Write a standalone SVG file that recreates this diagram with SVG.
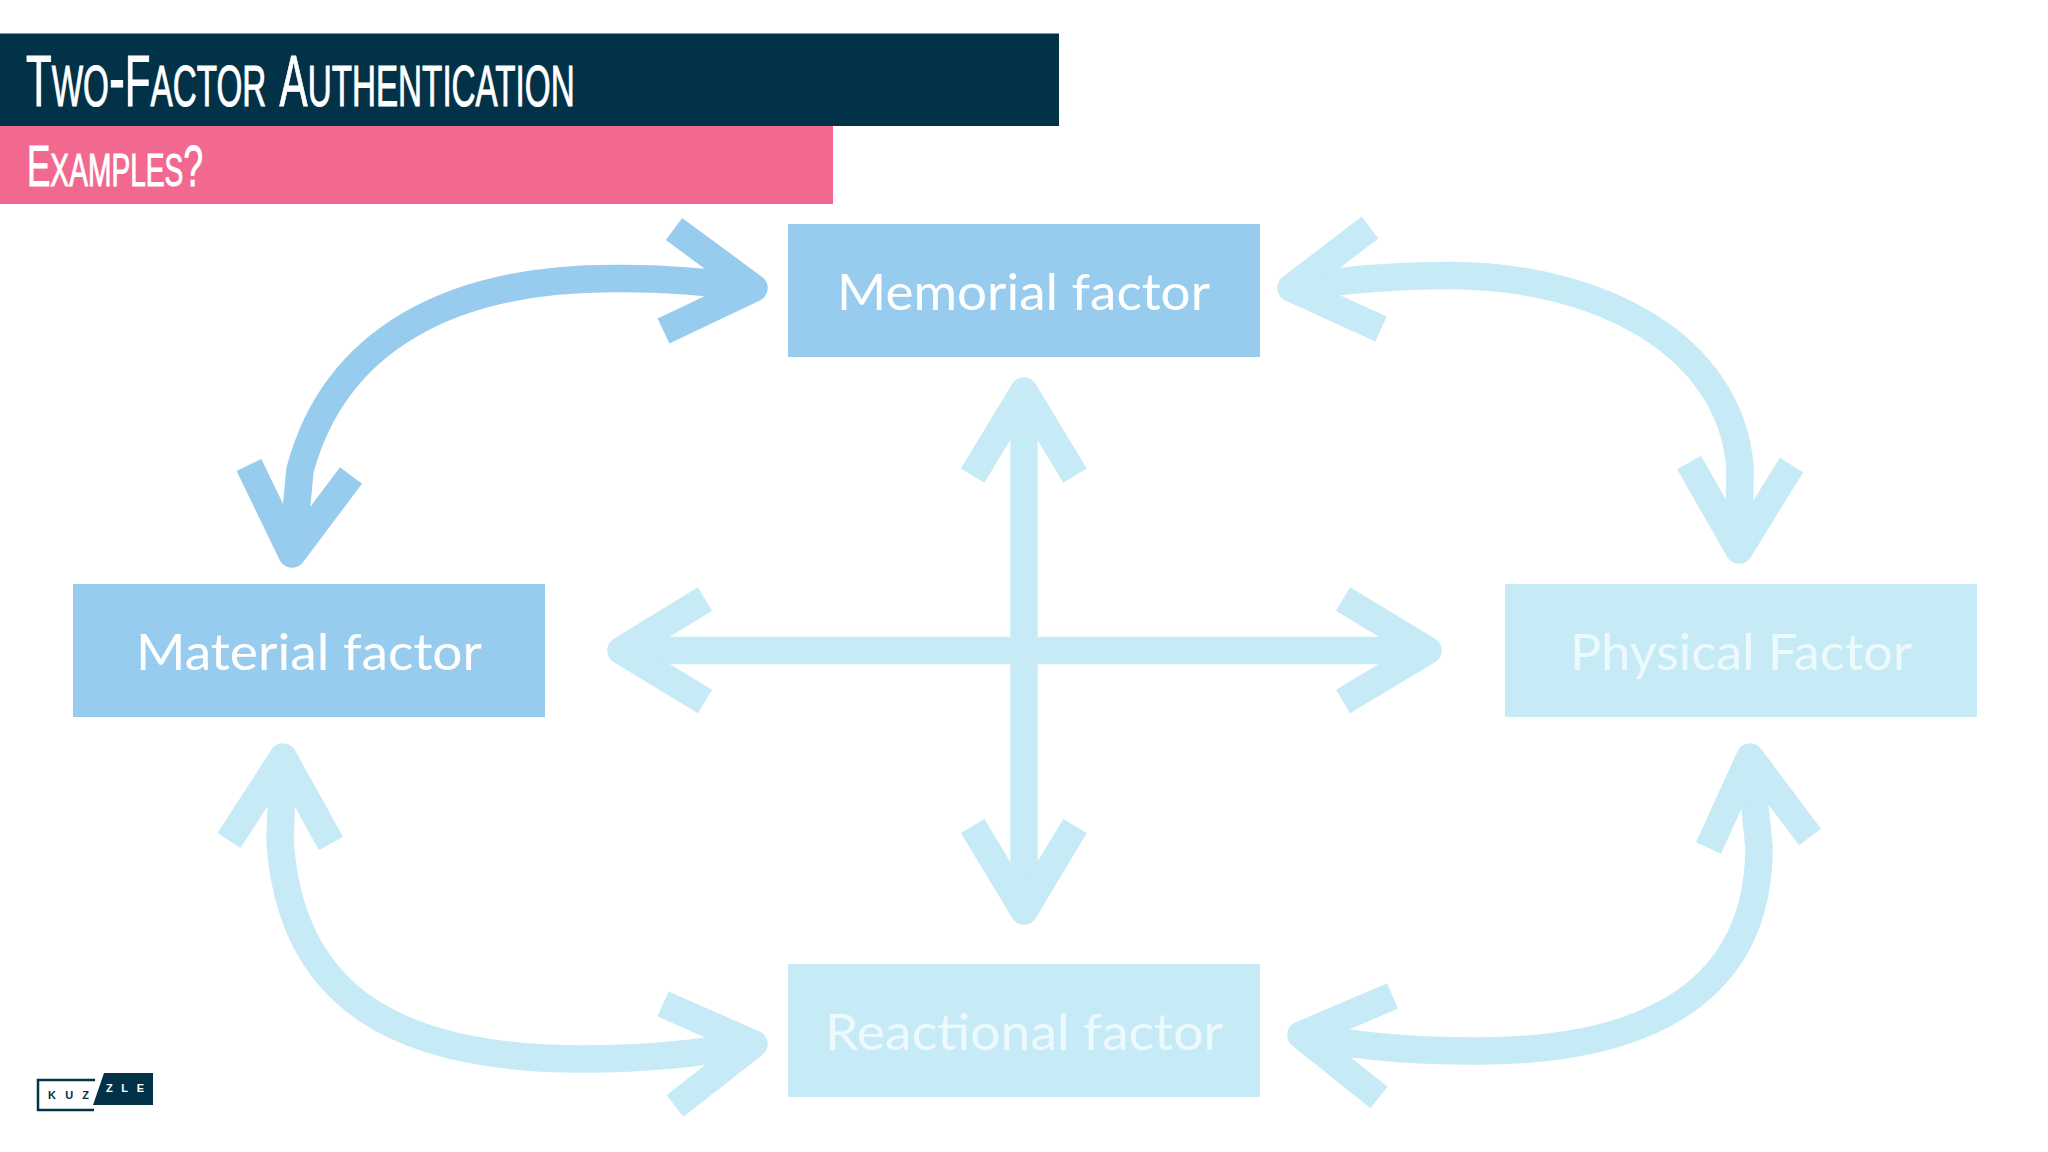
<svg xmlns="http://www.w3.org/2000/svg" width="2048" height="1152" viewBox="0 0 2048 1152">
<style>
.s{fill:none;stroke-width:27.5;stroke-linejoin:round;stroke-linecap:butt}
.d{stroke:#98ccee}.l{stroke:#c6ebf6}
.box-d{fill:#98ccee}.box-l{fill:#c6ebf6}
.lab{font-family:"Lato","Noto Sans",sans-serif;font-weight:400;font-size:51px}
.t{font-family:"Liberation Sans",sans-serif;fill:#fff;stroke:#fff;stroke-width:1}
.sc{font-variant:small-caps}
</style>
<rect width="2048" height="1152" fill="#fff"/>
<g id="title">
<rect x="0" y="33.5" width="1059" height="92.5" fill="#023247"/>
<text class="t" transform="translate(26 106) scale(.577 1)" font-size="73">T<tspan class="sc" font-size="83">wo-</tspan>F<tspan class="sc" font-size="83">actor </tspan>A<tspan class="sc" font-size="83">uthentication</tspan></text>
</g>
<g id="subtitle">
<rect x="0" y="126" width="833" height="78" fill="#f1698f"/>
<text class="t" transform="translate(27 186) scale(.615 1)" font-size="57">E<tspan class="sc" font-size="65">xamples</tspan>?</text>
</g>
<g id="connectors">
<g id="arrow-material-memorial" class="s d">
<path d="M754 288C710 282 670 278 615 278.5C450 278 335 340 300 470L292 554"/>
<path d="M674 229L754 288L663.5 331"/>
<path d="M249 465L292 554L351 475.5"/>
</g>
<g id="arrow-memorial-physical" class="s l">
<path d="M1291 288C1340 280 1400 275.5 1450 275.5C1600 276 1730 345 1740 467L1739 550"/>
<path d="M1370 227.5L1291 288L1381 329"/>
<path d="M1689 462.5L1739 550L1791.5 465"/>
</g>
<g id="arrow-material-reactional" class="s l">
<path d="M283 756L280 840C290 1000 400 1059 583 1059C650 1059 700 1053 754 1044"/>
<path d="M229 840.5L283 757L331 843.5"/>
<path d="M663 1004L754 1044L675 1106"/>
</g>
<g id="arrow-physical-reactional" class="s l">
<path d="M1750 757L1759 847C1759 990 1650 1051 1478 1051C1400 1051 1350 1045 1301 1035"/>
<path d="M1708.5 848L1750 757L1810 837"/>
<path d="M1392.5 996L1301 1035L1379 1097.5"/>
</g>
<g id="arrow-cross" class="s l">
<path d="M1024 391V911"/>
<path d="M621 650.5H1428"/>
<path d="M972.6 475.6L1024 391L1075 475.6"/>
<path d="M972.6 826L1024 911L1075 826"/>
<path d="M705 599L621 650.5L705 701.5"/>
<path d="M1343 599L1428 650.5L1343 701.5"/>
</g>
</g>
<g id="node-memorial">
<rect class="box-d" x="788" y="224" width="472" height="133"/>
<text class="lab" x="837" y="310" fill="#fff" textLength="373" lengthAdjust="spacingAndGlyphs">Memorial factor</text>
</g>
<g id="node-material">
<rect class="box-d" x="73" y="584" width="472" height="133"/>
<text class="lab" x="136" y="670" fill="#fff" textLength="346" lengthAdjust="spacingAndGlyphs">Material factor</text>
</g>
<g id="node-physical">
<rect class="box-l" x="1505" y="584" width="472" height="133"/>
<text class="lab" x="1570" y="670" fill="#ecf9fd" textLength="342" lengthAdjust="spacingAndGlyphs">Physical Factor</text>
</g>
<g id="node-reactional">
<rect class="box-l" x="788" y="964" width="472" height="133"/>
<text class="lab" x="825" y="1050" fill="#ecf9fd" textLength="398" lengthAdjust="spacingAndGlyphs">Reactional factor</text>
</g>
<g id="logo">
<path d="M95 1080H38V1110H94" fill="none" stroke="#023247" stroke-width="2.5"/>
<path d="M93 1105L104 1073H153V1105Z" fill="#023247"/>
<text x="48" y="1099" font-family="Liberation Sans,sans-serif" font-weight="700" font-size="11" fill="#023247" textLength="41">KUZ</text>
<text x="106" y="1092" font-family="Liberation Sans,sans-serif" font-weight="700" font-size="11" fill="#fff" textLength="38">ZLE</text>
</g>
</svg>
